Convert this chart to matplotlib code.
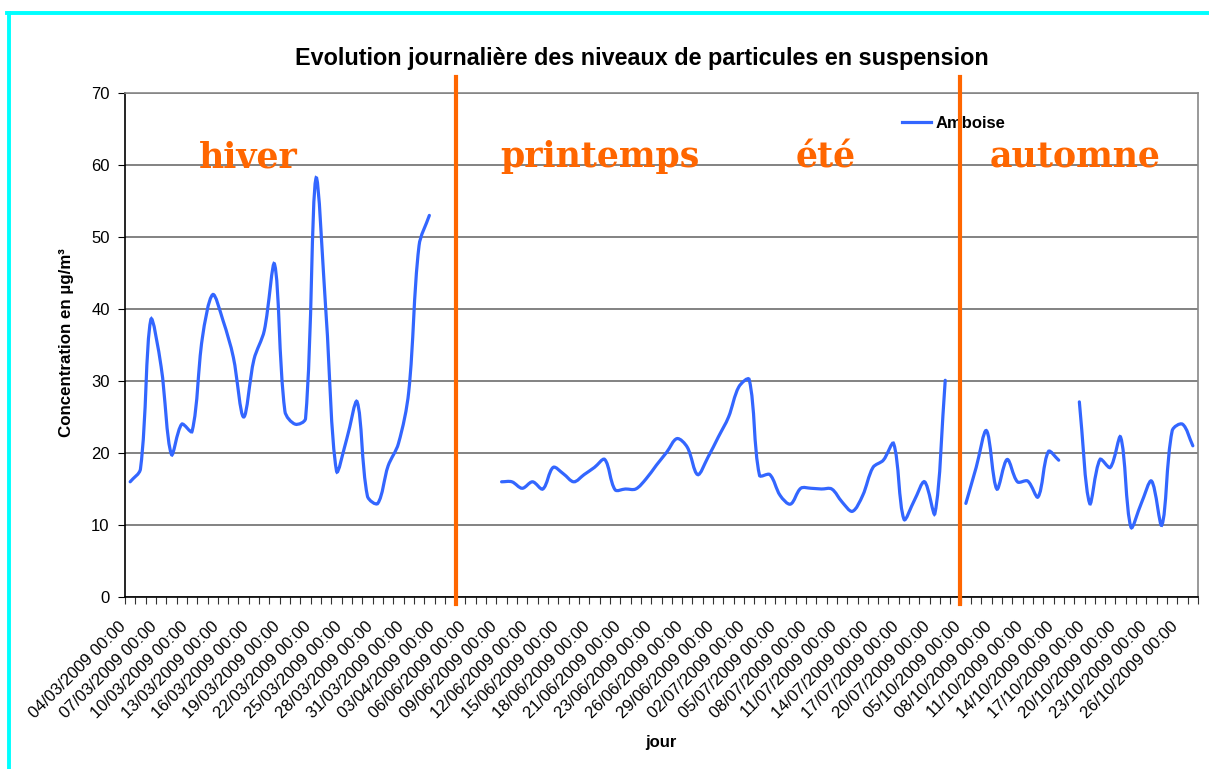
import numpy as np
import matplotlib
matplotlib.use("Agg")
import matplotlib.pyplot as plt
from matplotlib.path import Path
from matplotlib.patches import PathPatch
from matplotlib.lines import Line2D
import matplotlib.transforms as mtransforms

plt.rcParams['font.family'] = ['Liberation Sans', 'DejaVu Sans']

# daily PM concentration (µg/m3), one value per category, None = no measurement
hiver = [16, 17.8, 38.5, 32, 19.8, 24, 23, 36, 42, 38.4, 33.3, 25, 33, 37, 46.2,
         25.8, 24, 24.8, 58.1, 39, 17.5, 22, 27.1, 14, 13, 18.2, 21.3, 28.5, 48.8, 53]
trou_avril_juin = [None] * 6
printemps_ete = [16, 16, 15.1, 16, 15, 18, 17.1, 16, 17, 18, 19.1, 14.9, 15, 15,
                 16.4, 18.3, 20.1, 22, 20.8, 17, 19.4, 22.2, 25, 29.2, 30.2, 16.9,
                 17, 14.1, 12.9, 15.1, 15.1, 15, 15, 13.2, 11.9, 14.1, 18, 19, 21.3,
                 10.8, 13.4, 16, 11.6, 30.1]
trou_juillet_oct = [None]
automne_1 = [13, 18, 23.1, 15, 19.1, 16, 16.1, 13.9, 20.2, 19]
trou_oct = [None]
automne_2 = [27.1, 13, 19.1, 18, 22.2, 9.7, 13, 16.1, 10, 23.1, 24, 21]

concentration = hiver + trou_avril_juin + printemps_ete + trou_juillet_oct + automne_1 + trou_oct + automne_2

tick_labels = ['04/03/2009 00:00', '07/03/2009 00:00', '10/03/2009 00:00', '13/03/2009 00:00',
               '16/03/2009 00:00', '19/03/2009 00:00', '22/03/2009 00:00', '25/03/2009 00:00',
               '28/03/2009 00:00', '31/03/2009 00:00', '03/04/2009 00:00', '06/06/2009 00:00',
               '09/06/2009 00:00', '12/06/2009 00:00', '15/06/2009 00:00', '18/06/2009 00:00',
               '21/06/2009 00:00', '23/06/2009 00:00', '26/06/2009 00:00', '29/06/2009 00:00',
               '02/07/2009 00:00', '05/07/2009 00:00', '08/07/2009 00:00', '11/07/2009 00:00',
               '14/07/2009 00:00', '17/07/2009 00:00', '20/07/2009 00:00', '05/10/2009 00:00',
               '08/10/2009 00:00', '11/10/2009 00:00', '14/10/2009 00:00', '17/10/2009 00:00',
               '20/10/2009 00:00', '23/10/2009 00:00', '26/10/2009 00:00']

# season separators (category position) and season names
separateurs = [31.58, 80.43]
saisons = ['hiver', 'printemps', 'été', 'automne']

BLUE = '#3366FF'
ORANGE = '#FF6600'
W, H = 1209, 769


def smooth_path(xs, ys, sx=10.3, sy=7.2, t=1 / 3.0):
    # Excel-like smoothed line: cubic Bezier with chord-length weighted handles
    pts = np.column_stack([xs, ys]).astype(float)
    scale = np.array([sx, sy])
    n = len(pts)
    cin, cout = [None] * n, [None] * n
    for i in range(n):
        p0 = pts[i - 1] if i > 0 else pts[i]
        p1 = pts[i]
        p2 = pts[i + 1] if i + 1 < n else pts[i]
        d01 = np.hypot(*((p1 - p0) * scale))
        d12 = np.hypot(*((p2 - p1) * scale))
        tot = d01 + d12
        if tot == 0:
            cin[i] = cout[i] = p1
            continue
        tang = p2 - p0
        cin[i] = p1 - t * d01 / tot * tang
        cout[i] = p1 + t * d12 / tot * tang
    verts = [pts[0]]
    codes = [Path.MOVETO]
    for i in range(n - 1):
        verts += [cout[i], cin[i + 1], pts[i + 1]]
        codes += [Path.CURVE4] * 3
    return Path(verts, codes)


fig = plt.figure(figsize=(12.09, 7.69), dpi=100)
ax = fig.add_axes([125 / W, 1 - 597 / H, 1073 / W, 504 / H])

n = len(concentration)
x = np.arange(n)
y = np.array([np.nan if v is None else v for v in concentration])

# draw each continuous run as a smoothed curve
start = None
for i in range(n + 1):
    ok = i < n and not np.isnan(y[i])
    if ok and start is None:
        start = i
    elif not ok and start is not None:
        seg_x, seg_y = x[start:i], y[start:i]
        if len(seg_x) > 1:
            ax.add_patch(PathPatch(smooth_path(seg_x, seg_y), facecolor='none',
                                   edgecolor=BLUE, lw=2.3, zorder=3, capstyle='round'))
        start = None

ax.set_xlim(-0.5, n - 0.5)
ax.set_ylim(0, 70)
ax.set_yticks(np.arange(0, 71, 10))
ax.yaxis.grid(True, color='#606060', lw=1.1)
ax.set_axisbelow(True)

# category tick marks between days, date labels every third day
ax.set_xticks(np.arange(-0.5, n, 1))
ax.set_xticklabels([])
ax.tick_params(axis='x', length=5, color='#333333')
ax.tick_params(axis='y', length=5, pad=6, labelsize=12)
lab_trans = mtransforms.blended_transform_factory(ax.transData, ax.transAxes) + \
    mtransforms.ScaledTranslation(-7 / 100, -27 / 100, fig.dpi_scale_trans)
for pos, lab in zip(np.arange(0, n, 3), tick_labels):
    ax.text(pos, 0, lab, transform=lab_trans, rotation=45, ha='right', va='center',
            rotation_mode='anchor', fontsize=12, clip_on=False)

for s in ['top', 'right']:
    ax.spines[s].set_color('#888888')
    ax.spines[s].set_linewidth(1.2)
for s in ['left', 'bottom']:
    ax.spines[s].set_color('black')
    ax.spines[s].set_linewidth(1.2)

# legend
handle = Line2D([], [], color=BLUE, lw=2.3)
ax.legend([handle], ['Amboise'], loc='center left', bbox_to_anchor=(0.724, 0.939),
          frameon=False, prop={'weight': 'bold', 'size': 12}, handlelength=1.75,
          handletextpad=0.25, borderpad=0, borderaxespad=0)

# season separators
trans = mtransforms.blended_transform_factory(ax.transData, ax.transAxes)
for sx in separateurs:
    ax.add_line(Line2D([sx, sx], [-0.014, 1.032], transform=trans, color=ORANGE,
                       lw=3, clip_on=False, zorder=6))

for name, px in zip(saisons, [248, 600, 826, 1075]):
    fig.text(px / W, 1 - 157 / H, name, ha='center', va='center', color=ORANGE,
             fontsize=25, fontweight='bold', family='DejaVu Serif')

fig.text(642 / W, 1 - 58 / H, 'Evolution journalière des niveaux de particules en suspension',
         ha='center', va='center', fontsize=16.8, fontweight='bold')
fig.text(66 / W, 1 - 343 / H, 'Concentration en µg/m³', rotation=90,
         ha='center', va='center', fontsize=12.2, fontweight='bold')
fig.text(661 / W, 1 - 742 / H, 'jour', ha='center', va='center', fontsize=12, fontweight='bold')

# cyan frame of the original sheet
fig.add_artist(Line2D([7 / W, 1], [1 - 12.5 / H, 1 - 12.5 / H], transform=fig.transFigure,
                      color='#00FFFF', lw=2.8))
fig.add_artist(Line2D([9 / W, 9 / W], [0, 1 - 12.5 / H], transform=fig.transFigure,
                      color='#00FFFF', lw=2.8))

fig.savefig('out.png', dpi=100)
